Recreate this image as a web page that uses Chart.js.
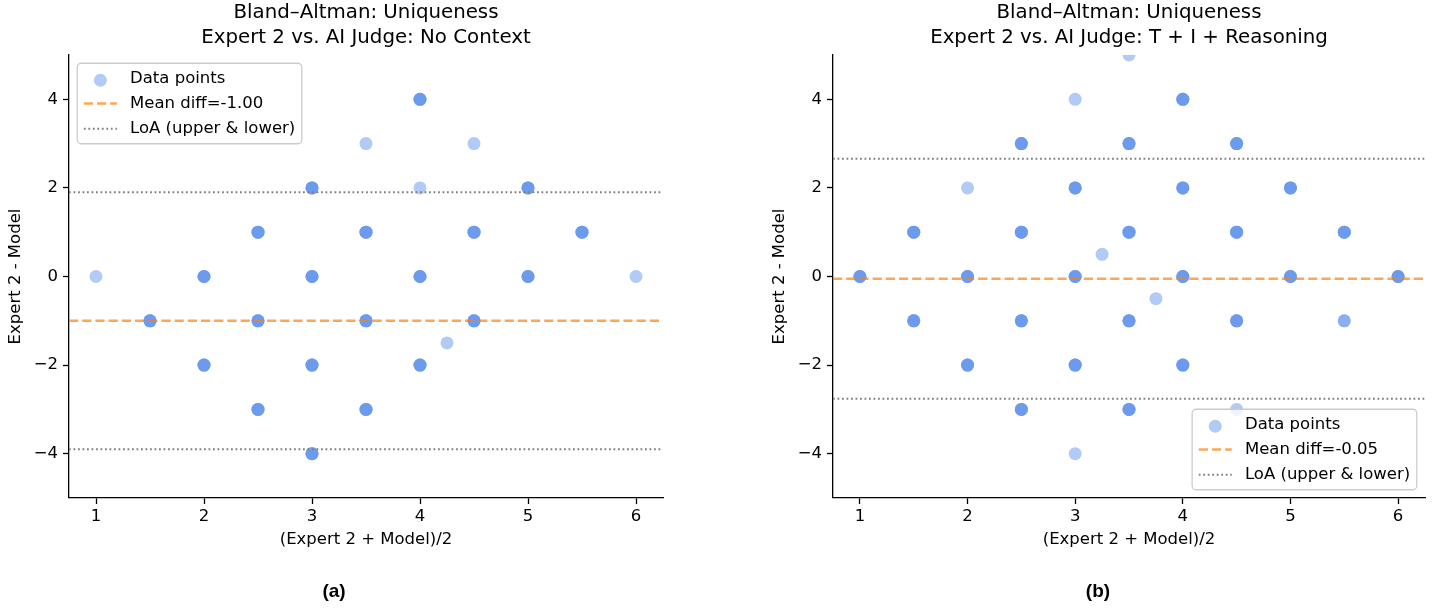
<!DOCTYPE html>
<html>
<head>
<meta charset="utf-8">
<script src="https://cdn.jsdelivr.net/npm/chart.js@4.4.1/dist/chart.umd.min.js"></script>
<style>
  body { margin: 0; background: #fff; width: 1438px; height: 609px; overflow: hidden; position: relative; }
  canvas { position: absolute; top: 0; }
  #chartA { left: 0; }
  #chartB { left: 764px; }
  .tag { position: absolute; top: 580px; width: 60px; text-align: center; font: bold 19px 'Liberation Sans', Arial, sans-serif; color: #000; }
</style>
</head>
<body>
<canvas id="chartA" width="720" height="609"></canvas>
<canvas id="chartB" width="674" height="609"></canvas>
<div class="tag" style="left:304px">(a)</div>
<div class="tag" style="left:1068px">(b)</div>
<script>
    // titles and ticks
    var titleA = ['Bland–Altman: Uniqueness', 'Expert 2 vs. AI Judge: No Context'];
    var titleB = ['Bland–Altman: Uniqueness', 'Expert 2 vs. AI Judge: T + I + Reasoning'];
    var xTicks = [1, 2, 3, 4, 5, 6];
    var yTicks = [-4, -2, 0, 2, 4];
    var xRange = [0.75, 6.25];
    var yRange = [-5, 5];

    // panel (a): mean of the two ratings, difference, how many points share the spot
    var avgA   = [1, 1.5, 2, 2, 2.5, 2.5, 2.5, 3, 3, 3, 3, 3.5, 3.5, 3.5, 3.5, 4, 4, 4, 4, 4.25, 4.5, 4.5, 4.5, 5, 5, 5.5, 6];
    var diffA  = [0, -1, 0, -2, 1, -1, -3, 2, 0, -2, -4, 3, 1, -1, -3, 4, 2, 0, -2, -1.5, 3, 1, -1, 2, 0, 1, 0];
    var countA = [1, 4, 4, 4, 4, 4, 4, 4, 4, 4, 4, 1, 4, 4, 4, 4, 1, 4, 4, 1, 1, 4, 4, 4, 4, 4, 1];

    // panel (b)
    var avgB   = [1, 1.5, 1.5, 2, 2, 2, 2.5, 2.5, 2.5, 2.5, 3, 3, 3, 3, 3, 3.25, 3.5, 3.5, 3.5, 3.5, 3.5, 3.75, 4, 4, 4, 4, 4.5, 4.5, 4.5, 4.5, 5, 5, 5.5, 5.5, 6];
    var diffB  = [0, 1, -1, 2, 0, -2, 3, 1, -1, -3, 4, 2, 0, -2, -4, 0.5, 5, 3, 1, -1, -3, -0.5, 4, 2, 0, -2, 3, 1, -1, -3, 2, 0, 1, -1, 0];
    var countB = [4, 4, 4, 1, 4, 4, 4, 4, 4, 4, 1, 4, 4, 4, 1, 1, 1, 4, 4, 4, 4, 1, 4, 4, 4, 4, 4, 4, 4, 1, 4, 4, 4, 2, 4];

    // mean difference and limits of agreement, (a) then (b)
    var meanDiff = [-1.00, -0.05];
    var loaUpper = [1.90, 2.66];
    var loaLower = [-3.90, -2.76];

    var FONT = "'DejaVu Sans', sans-serif";
    var DOT = 'rgba(100,149,237,0.5)';
    var ORANGE = 'rgba(255,127,14,0.7)';
    var DASH = [9.2, 4];
    var DOTTED = [1.8, 2.7];
    Chart.defaults.font.family = FONT;
    Chart.defaults.color = '#000';

    // legend drawn inside the plot, like matplotlib does it
    var boxLegend = {
        id: 'boxLegend',
        afterDatasetsDraw: function (chart, args, o) {
            var ctx = chart.ctx, a = chart.chartArea;
            var fs = 16.5, pad = 0.4 * fs, handle = 2 * fs, gap = 0.8 * fs, row = 25.3, h = 80.5;
            var labels = ['Data points', 'Mean diff=' + o.mean.toFixed(2), 'LoA (upper & lower)'];
            ctx.save();
            ctx.font = fs + 'px ' + FONT;
            var tw = Math.max.apply(null, labels.map(function (t) { return ctx.measureText(t).width; }));
            var w = pad + handle + gap + tw + pad;
            var x0 = o.corner === 'ul' ? a.left + fs / 2 : a.right - fs / 2 - w;
            var y0 = o.corner === 'ul' ? a.top + fs / 2 : a.bottom - fs / 2 - h;

            ctx.beginPath();
            ctx.roundRect(x0, y0, w, h, 4);
            ctx.fillStyle = 'rgba(255,255,255,0.8)';
            ctx.fill();
            ctx.lineWidth = 1.3;
            ctx.strokeStyle = '#cccccc';
            ctx.stroke();

            var hx = x0 + pad;
            // marker
            ctx.beginPath();
            ctx.arc(hx + handle / 2, y0 + 17, 6.5, 0, Math.PI * 2);
            ctx.fillStyle = DOT;
            ctx.fill();
            // dashed mean
            ctx.lineWidth = 2.5;
            ctx.strokeStyle = ORANGE;
            ctx.setLineDash(DASH);
            ctx.beginPath();
            ctx.moveTo(hx, y0 + 15 + row);
            ctx.lineTo(hx + handle, y0 + 15 + row);
            ctx.stroke();
            // dotted loa
            ctx.lineWidth = 2;
            ctx.strokeStyle = 'gray';
            ctx.setLineDash(DOTTED);
            ctx.beginPath();
            ctx.moveTo(hx, y0 + 15 + 2 * row);
            ctx.lineTo(hx + handle, y0 + 15 + 2 * row);
            ctx.stroke();
            ctx.setLineDash([]);

            ctx.fillStyle = '#000';
            ctx.textBaseline = 'middle';
            ctx.textAlign = 'left';
            labels.forEach(function (t, i) {
                ctx.fillText(t, hx + handle + gap, y0 + 15 + i * row);
            });
            ctx.restore();
        }
    };

    function minus(v) {
        return String(v).replace('-', '\u2212');
    }

    function hline(label, y, color, dash, width) {
        return {
            type: 'line', label: label,
            data: [{ x: xRange[0], y: y }, { x: xRange[1], y: y }],
            borderColor: color, borderWidth: width, borderDash: dash,
            pointRadius: 0, fill: false, order: 0
        };
    }

    function makeChart(id, title, avg, diff, count, k, corner, rightPad) {
        var pts = [];
        avg.forEach(function (x, i) {
            for (var n = 0; n < count[i]; n++) pts.push({ x: x, y: diff[i] });
        });

        return new Chart(document.getElementById(id), {
            type: 'scatter',
            data: {
                datasets: [
                    hline('Mean diff', meanDiff[k], ORANGE, DASH, 2.5),
                    hline('LoA upper', loaUpper[k], 'gray', DOTTED, 2),
                    hline('LoA lower', loaLower[k], 'gray', DOTTED, 2),
                    {
                        label: 'Data points', data: pts,
                        backgroundColor: DOT, borderWidth: 0,
                        pointRadius: 6.5, pointHoverRadius: 6.5,
                        clip: 0, order: 1
                    }
                ]
            },
            options: {
                responsive: false,
                animation: false,
                events: [],
                layout: { padding: { left: 0, right: rightPad, top: 0, bottom: 49 } },
                plugins: {
                    legend: { display: false },
                    tooltip: { enabled: false },
                    title: {
                        display: true, text: title, fullSize: false,
                        color: '#000',
                        font: { size: 19.8, weight: 'normal', lineHeight: 1.263 },
                        padding: { top: 0, bottom: 5 }
                    },
                    boxLegend: { corner: corner, mean: meanDiff[k] }
                },
                scales: {
                    x: {
                        type: 'linear', min: xRange[0], max: xRange[1],
                        afterBuildTicks: function (s) { s.ticks = xTicks.map(function (v) { return { value: v }; }); },
                        afterFit: function (s) { s.height = 62; },
                        ticks: { font: { size: 16.5 }, color: '#000', padding: 3, callback: minus },
                        grid: { drawOnChartArea: false, drawTicks: true, tickLength: 6, tickWidth: 1.3, tickColor: '#000' },
                        border: { display: true, color: '#000', width: 1.3 },
                        title: { display: true, text: '(Expert 2 + Model)/2', color: '#000', font: { size: 16.5 }, padding: { top: 0, bottom: 10 } }
                    },
                    y: {
                        type: 'linear', min: yRange[0], max: yRange[1],
                        afterBuildTicks: function (s) { s.ticks = yTicks.map(function (v) { return { value: v }; }); },
                        afterFit: function (s) { s.width = 69; },
                        ticks: { font: { size: 16.5 }, color: '#000', padding: 5, callback: minus },
                        grid: { drawOnChartArea: false, drawTicks: true, tickLength: 6, tickWidth: 1.3, tickColor: '#000' },
                        border: { display: true, color: '#000', width: 1.3 },
                        title: { display: true, text: 'Expert 2 - Model', color: '#000', font: { size: 16.5 }, padding: { top: 6, bottom: 0 } }
                    }
                }
            },
            plugins: [boxLegend]
        });
    }

    makeChart('chartA', titleA, avgA, diffA, countA, 0, 'ul', 57);
    makeChart('chartB', titleB, avgB, diffB, countB, 1, 'lr', 13);
</script>
</body>
</html>
